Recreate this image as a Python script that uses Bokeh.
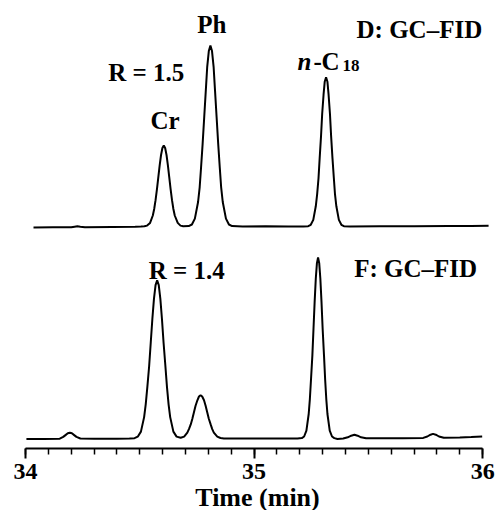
from bokeh.plotting import figure
from bokeh.models import Range1d, Label, SingleIntervalTicker, ColumnDataSource
from bokeh.transform import dodge
from bokeh.embed import file_html
from bokeh.resources import INLINE

# ---- Data ----
# Trace D (upper chromatogram): time (min) and detector signal (arbitrary units)
TIME_D = [34.035, 34.12, 34.20, 34.215, 34.227, 34.24, 34.26, 34.38, 34.48, 34.505,
          # Cr
          34.520, 34.532, 34.545, 34.557, 34.563, 34.569, 34.575, 34.581, 34.587, 34.593, 34.599,
          34.605, 34.611, 34.617, 34.623, 34.629, 34.635, 34.641, 34.647, 34.653, 34.666, 34.678, 34.690,
          # Ph
          34.714, 34.728, 34.741, 34.755, 34.762, 34.768, 34.775, 34.782, 34.789, 34.795, 34.802,
          34.809, 34.816, 34.823, 34.829, 34.836, 34.843, 34.850, 34.856, 34.863, 34.877, 34.890, 34.904,
          34.95, 35.05, 35.15, 35.215,
          # n-C18
          35.237, 35.248, 35.259, 35.270, 35.276, 35.282, 35.287, 35.293, 35.298, 35.304, 35.309,
          35.315, 35.321, 35.326, 35.332, 35.337, 35.343, 35.349, 35.354, 35.360, 35.371, 35.382, 35.393,
          35.42, 35.55, 35.70, 35.85, 35.95, 36.026]
SIGNAL_D = [-1.0, -0.8, -0.8, -0.2, 0.2, -0.2, -0.8, -0.5, -0.3, -0.1,
            0.2, 0.9, 3.6, 11.0, 17.5, 26.3, 37.1, 49.1, 61.1, 71.5, 78.5,
            81.0, 78.5, 71.5, 61.1, 49.1, 37.1, 26.3, 17.5, 11.0, 3.6, 0.9, 0.2,
            0.4, 2.0, 7.9, 24.5, 39.2, 58.8, 82.9, 109.8, 136.6, 159.7, 175.4,
            181.0, 175.4, 159.7, 136.6, 109.8, 82.9, 58.8, 39.2, 24.5, 7.9, 2.0, 0.4,
            0.0, 0.2, 0.0, 0.0,
            0.3, 1.7, 6.6, 20.2, 32.3, 48.5, 68.4, 90.6, 112.7, 131.8, 144.7,
            149.3, 144.7, 131.8, 112.7, 90.6, 68.4, 48.5, 32.3, 20.2, 6.6, 1.7, 0.3,
            0.0, 0.2, 0.3, 0.5, 0.6, 0.8]

# Trace F (lower chromatogram)
TIME_F = [34.004, 34.08, 34.15, 34.165, 34.175, 34.185, 34.194, 34.203, 34.213, 34.223, 34.24,
          34.30, 34.40, 34.455,
          34.477, 34.491, 34.505, 34.519, 34.526, 34.533, 34.541, 34.548, 34.555, 34.562, 34.569,
          34.576, 34.583, 34.590, 34.597, 34.604, 34.612, 34.619, 34.626, 34.633, 34.647, 34.661,
          34.679, 34.694, 34.708, 34.715, 34.723, 34.730, 34.737, 34.744, 34.752, 34.759,
          34.766, 34.773, 34.781, 34.788, 34.795, 34.802, 34.810, 34.817, 34.824, 34.839, 34.853, 34.868,
          34.95, 35.05, 35.15, 35.19,
          35.209, 35.219, 35.229, 35.239, 35.244, 35.249, 35.255, 35.260, 35.265, 35.270, 35.275,
          35.280, 35.285, 35.290, 35.295, 35.300, 35.306, 35.311, 35.316, 35.321, 35.331, 35.341, 35.351,
          35.365, 35.39, 35.41, 35.425, 35.439, 35.453, 35.468, 35.49, 35.55, 35.65,
          35.74, 35.758, 35.772, 35.783, 35.795, 35.809, 35.83, 35.90, 35.95, 35.998]
SIGNAL_F = [-0.5, -0.5, -0.2, 1.6, 3.4, 5.2, 5.8, 5.2, 3.4, 1.6, 0.0,
            -0.3, -0.2, 0.0,
            0.35, 1.8, 6.9, 21.4, 34.2, 51.4, 72.5, 96.0, 119.5, 139.7, 153.4,
            158.3, 153.4, 139.7, 119.5, 96.0, 72.5, 51.4, 34.2, 21.4, 6.9, 1.9,
            0.7, 1.9, 5.9, 9.4, 14.1, 19.8, 26.3, 32.7, 38.2, 42.0,
            43.3, 42.0, 38.2, 32.7, 26.3, 19.8, 14.1, 9.4, 5.9, 1.9, 0.5, 0.1,
            0.0, 0.1, 0.0, 0.0,
            0.4, 2.0, 7.9, 24.5, 39.2, 58.8, 82.9, 109.8, 136.6, 159.7, 175.4,
            181.0, 175.4, 159.7, 136.6, 109.8, 82.9, 58.8, 39.2, 24.5, 7.9, 2.0, 0.4,
            -0.5, 0.0, 1.2, 2.8, 3.8, 2.8, 1.2, 0.2, 0.2, 0.3,
            0.6, 2.0, 3.8, 4.6, 3.8, 2.0, 0.7, 1.0, 1.4, 2.0]

X_TICK_INTERVAL = 1
X_LABEL = "Time (min)"

# ---- Figure ----
FONT = "Liberation Serif"

p = figure(frame_width=464, frame_height=440,
           x_range=Range1d(34, 36.03), y_range=Range1d(0, 440),
           output_backend="svg", toolbar_location=None, y_axis_location=None,
           min_border_left=25, min_border_right=7, min_border_top=8, min_border_bottom=0)
p.xgrid.visible = False
p.ygrid.visible = False
p.outline_line_color = None
p.background_fill_color = "white"
p.border_fill_color = "white"

src_d = ColumnDataSource(dict(t=TIME_D, s=SIGNAL_D))
src_f = ColumnDataSource(dict(t=TIME_F, s=SIGNAL_F))
p.line("t", dodge("s", 222), source=src_d, line_color="black", line_width=2)
p.line("t", dodge("s", 10), source=src_f, line_color="black", line_width=2)

ax = p.xaxis[0]
ax.ticker = SingleIntervalTicker(interval=X_TICK_INTERVAL, num_minor_ticks=10)
ax.bounds = (34, 36)
ax.axis_label = X_LABEL
ax.axis_line_width = 2
ax.axis_line_color = "black"
ax.major_tick_line_width = 2
ax.minor_tick_line_width = 1.5
ax.major_tick_line_color = "black"
ax.minor_tick_line_color = "black"
ax.major_tick_out = 10
ax.major_tick_in = 0
ax.minor_tick_out = 6
ax.minor_tick_in = 0
ax.major_label_standoff = 5
ax.major_label_text_font = FONT
ax.major_label_text_font_style = "bold"
ax.major_label_text_font_size = "24px"
ax.major_label_text_color = "black"
ax.axis_label_text_font = FONT
ax.axis_label_text_font_style = "bold"
ax.axis_label_text_font_size = "26px"
ax.axis_label_text_color = "black"
ax.axis_label_standoff = 1

def lab(x, y, text, size="25px", style="bold", align="left"):
    p.add_layout(Label(x=x, y=y, text=text, text_font=FONT, text_font_style=style,
                       text_font_size=size, text_align=align, text_baseline="alphabetic",
                       text_color="black"))

lab(34.751, 423.7, "Ph")
lab(34.362, 376, "R = 1.5")
lab(34.547, 328, "Cr")
lab(35.1899, 387, "n", style="bold italic")
lab(35.2598, 387, "-")
lab(35.2948, 387, "C")
lab(35.3867, 383.2, "18", size="17px")
lab(35.998, 418.7, "D: GC\u2013FID", align="right")
lab(34.539, 177.7, "R = 1.4")
lab(35.976, 180.3, "F: GC\u2013FID", align="right")

open("out.html", "w").write(file_html(p, INLINE))
